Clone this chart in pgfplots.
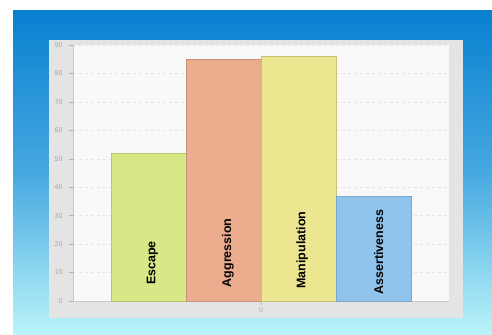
\documentclass[border=0pt]{standalone}
\usepackage{pgfplots}
\pgfplotsset{compat=1.18}
\usepackage{fontspec}
\setmainfont{Liberation Sans}
\definecolor{bgtop}{RGB}{8,128,208}
\definecolor{bgmid}{RGB}{70,168,224}
\definecolor{bgbot}{RGB}{186,244,250}
\definecolor{panel}{RGB}{228,228,228}
\definecolor{plotbg}{RGB}{249,249,249}
\definecolor{cEsc}{RGB}{216,232,134}
\definecolor{cAgg}{RGB}{236,172,142}
\definecolor{cMan}{RGB}{237,230,144}
\definecolor{cAss}{RGB}{144,196,236}
\begin{document}
\begin{tikzpicture}[x=1bp,y=1bp]
\fill[white] (0,0) rectangle (492,334);
\shade[top color=bgtop, bottom color=bgbot, middle color=bgmid] (13,0) rectangle (492,323);
\fill[panel] (49,16) rectangle (463,294);
\begin{axis}[
  at={(73bp,33bp)}, anchor=south west,
  scale only axis, width=376bp, height=256bp,
  xmin=-1.007, xmax=4.007, ymin=0, ymax=90,
  ybar, bar width=1, bar shift=0pt,
  axis background/.style={fill=plotbg},
  axis x line*=bottom, axis y line*=left,
  axis line style={draw=gray!45, line width=0.6pt},
  xtick={1.5}, xticklabels={0},
  ytick={0,10,...,90},
  tick align=outside, major tick length=4bp,
  tick style={draw=gray!60, line width=0.5pt},
  ymajorgrids, grid style={dashed, gray!20, line width=0.4pt},
  /pgf/number format/assume math mode=true,
  tick label style={font=\fontsize{7}{8}\selectfont, text=gray!70},
  yticklabel style={xshift=-3bp},
  xticklabel style={yshift=1bp},
]
\addplot[fill=cEsc, draw=cEsc!85!black, line width=0.4pt] coordinates {(0,52)};
\addplot[fill=cAgg, draw=cAgg!85!black, line width=0.4pt] coordinates {(1,85)};
\addplot[fill=cMan, draw=cMan!85!black, line width=0.4pt] coordinates {(2,86)};
\addplot[fill=cAss, draw=cAss!85!black, line width=0.4pt] coordinates {(3,37)};
\begin{scope}[every node/.style={rotate=90, font=\bfseries\fontsize{12.5}{14}\selectfont, text=black, inner sep=0pt}]
\node at (axis cs:0.05,13.4) {Escape};
\node at (axis cs:1.06,16.9) {Aggression};
\node at (axis cs:2.05,17.9) {Manipulation};
\node at (axis cs:3.07,17.2) {Assertiveness};
\end{scope}
\end{axis}
\pgfresetboundingbox
\useasboundingbox (0,0) rectangle (492,334);
\end{tikzpicture}
\end{document}
